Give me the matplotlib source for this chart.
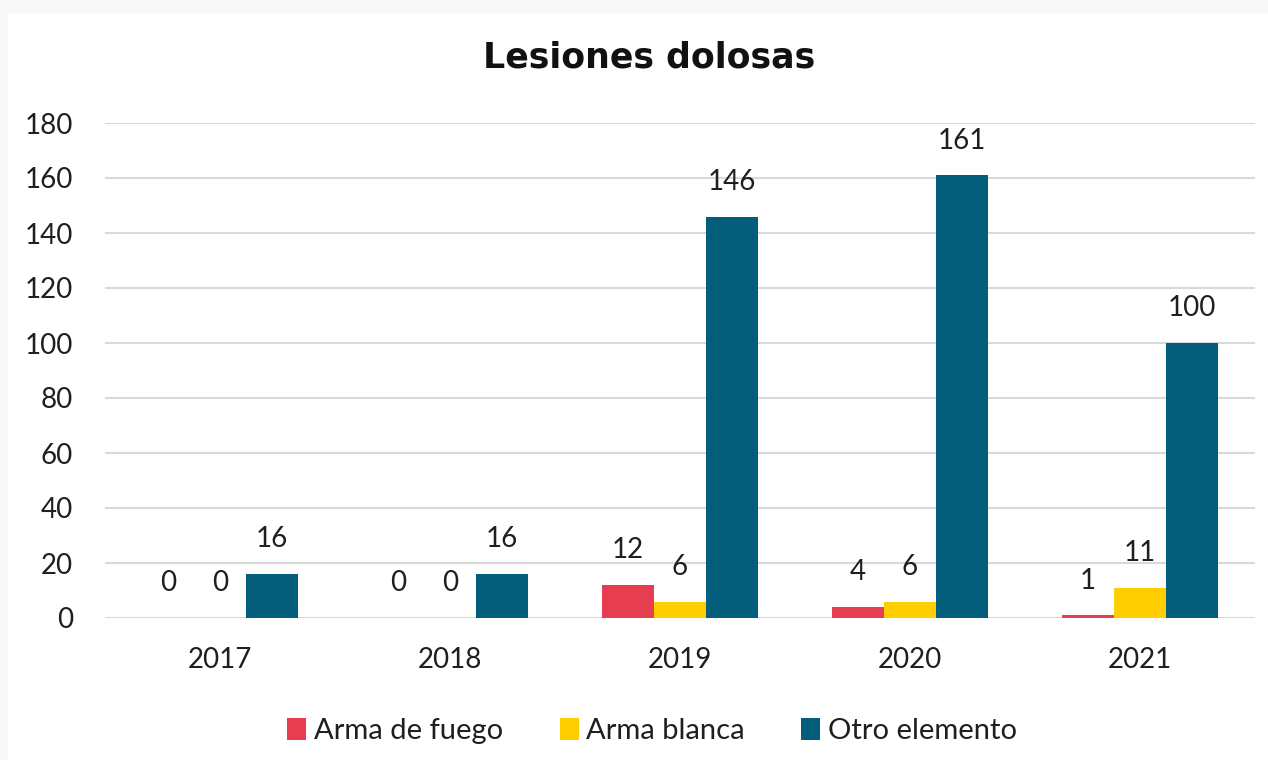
import matplotlib
matplotlib.use("Agg")
import matplotlib.pyplot as plt
import numpy as np
from matplotlib.patches import Rectangle

years = ["2017", "2018", "2019", "2020", "2021"]
series_names = ["Arma de fuego", "Arma blanca", "Otro elemento"]
arma_fuego = [0, 0, 12, 4, 1]
arma_blanca = [0, 0, 6, 6, 11]
otro_elemento = [16, 16, 146, 161, 100]
colors = ["#E63E50", "#FFCD00", "#035E7B"]

plt.rcParams['font.family'] = ['Lato', 'DejaVu Sans']
txt = "#1f1f1f"

fig = plt.figure(figsize=(12.68, 7.6), dpi=100)
fig.patch.set_facecolor("#F7F8FA")
fig.patches.append(Rectangle((8/1268, 0), 1 - 8/1268, 1 - 14/760,
                             transform=fig.transFigure, facecolor="white",
                             edgecolor="none", zorder=-10))

ax = fig.add_axes([105/1268, 1 - 618/760, 1150/1268, (618 - 123)/760])
ax.set_facecolor("none")

x = np.arange(len(years))
w = 0.227
all_series = [arma_fuego, arma_blanca, otro_elemento]
for i, (vals, name, col) in enumerate(zip(all_series, series_names, colors)):
    pos = x + (i - 1) * w
    bars = ax.bar(pos, vals, width=w, color=col, label=name, zorder=3)
    for b, v in zip(bars, vals):
        ax.annotate(str(v), (b.get_x() + b.get_width() / 2, v),
                    xytext=(0, 25), textcoords="offset points",
                    ha="center", va="center", fontsize=20, color=txt)

ax.set_ylim(0, 180)
ax.set_xlim(-0.5, len(years) - 0.5)
ax.set_yticks(np.arange(0, 181, 20))
ax.set_xticks(x)
ax.set_xticklabels(years)
ax.tick_params(axis="both", length=0, labelsize=20, colors=txt)
ax.tick_params(axis="x", pad=21)
ax.tick_params(axis="y", pad=23)
ax.grid(axis="y", color="#D9D9D9", linewidth=1.5, zorder=0)
for s in ax.spines.values():
    s.set_visible(False)

fig.text(649/1268, 1 - 57/760, "Lesiones dolosas", ha="center", va="center",
         fontsize=25, fontweight="bold", color="#111111",
         family=["DejaVu Sans"])

leg = fig.legend(loc="center", bbox_to_anchor=(652/1268, 1 - 731/760), ncol=3,
                 frameon=False, fontsize=21, handlelength=0.65, handleheight=0.8,
                 handletextpad=0.25, columnspacing=1.95)
for t in leg.get_texts():
    t.set_color(txt)

fig.savefig("out.png", dpi=100, facecolor=fig.get_facecolor())
